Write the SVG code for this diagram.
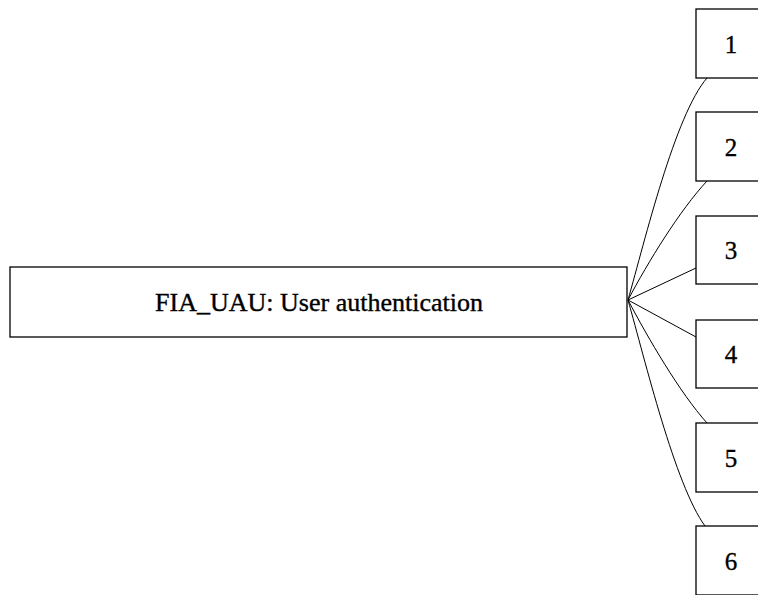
<svg xmlns="http://www.w3.org/2000/svg" width="758" height="595" viewBox="0 0 758 595">
<style>
.box{fill:#fff;stroke:#000;stroke-width:1.3}
.lbl{font-family:'Liberation Serif','Times New Roman',Times,serif;font-size:25px;fill:#000;stroke:#000;stroke-width:0.35;text-anchor:middle}
.edge{fill:none;stroke:#000;stroke-width:1}
</style>
<rect width="758" height="595" fill="#fff"/>
<g id="connectors">
<path class="edge" d="M628,300 C645,240 675,115 707,78"/>
<path class="edge" d="M628,300 C648,262 680,210 707,181"/>
<path class="edge" d="M628,300 L696,268"/>
<path class="edge" d="M628,300 L696,337"/>
<path class="edge" d="M628,300 C648,338 680,393 707,423"/>
<path class="edge" d="M628,300 C645,360 675,485 705,526"/>
</g>
<g id="main">
<rect class="box" x="10" y="267" width="617" height="70"/>
<text class="lbl" x="319" y="311" textLength="328" lengthAdjust="spacingAndGlyphs">FIA_UAU: User authentication</text>
</g>
<g id="n1">
<rect class="box" x="696" y="9" width="70" height="69"/>
<text class="lbl" x="731" y="53">1</text>
</g>
<g id="n2">
<rect class="box" x="696" y="112" width="70" height="69"/>
<text class="lbl" x="731" y="156">2</text>
</g>
<g id="n3">
<rect class="box" x="696" y="216" width="70" height="68"/>
<text class="lbl" x="731" y="259">3</text>
</g>
<g id="n4">
<rect class="box" x="696" y="320" width="70" height="68"/>
<text class="lbl" x="731" y="363">4</text>
</g>
<g id="n5">
<rect class="box" x="696" y="423" width="70" height="69"/>
<text class="lbl" x="731" y="467">5</text>
</g>
<g id="n6">
<rect class="box" x="696" y="526" width="70" height="69"/>
<text class="lbl" x="731" y="570">6</text>
</g>
</svg>
